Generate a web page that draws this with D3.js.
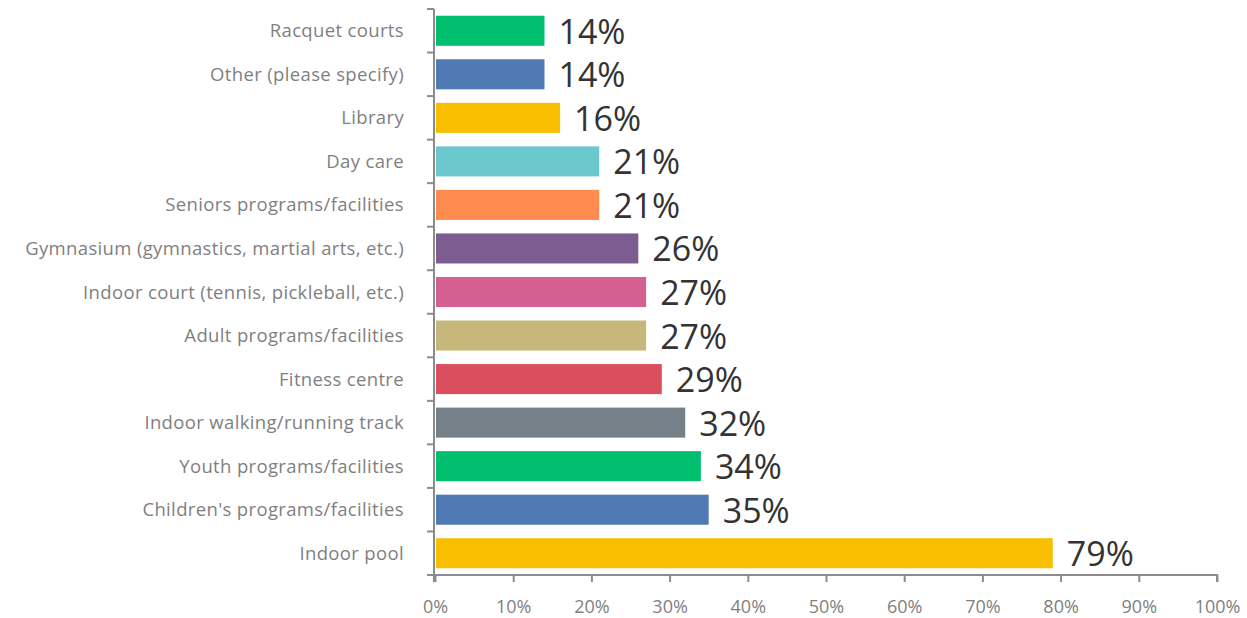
<!DOCTYPE html>
<html>
<head>
<meta charset="utf-8">
<script src="https://cdn.jsdelivr.net/npm/d3@7"></script>
<style>
  html, body { margin: 0; padding: 0; background: #fff; }
  svg { display: block; font-family: "Open Sans", sans-serif; }
</style>
</head>
<body>
<svg id="chart" width="1247" height="618"></svg>
<script>
// Facility categories, top to bottom
const categories = [
  "Racquet courts",
  "Other (please specify)",
  "Library",
  "Day care",
  "Seniors programs/facilities",
  "Gymnasium (gymnastics, martial arts, etc.)",
  "Indoor court (tennis, pickleball, etc.)",
  "Adult programs/facilities",
  "Fitness centre",
  "Indoor walking/running track",
  "Youth programs/facilities",
  "Children's programs/facilities",
  "Indoor pool"
];

// Share of respondents (%)
const values = [14, 14, 16, 21, 21, 26, 27, 27, 29, 32, 34, 35, 79];

// Bar fills
const barColors = [
  "#00BF6F", "#4F7AB4", "#F9BE00", "#6BC8CD", "#FF8B4F", "#7D5C91",
  "#D45F91", "#C8B77A", "#DA4E5D", "#768088", "#00BF6F", "#4F7AB4", "#F9BE00"
];

// X axis ticks
const xTicks = [0, 10, 20, 30, 40, 50, 60, 70, 80, 90, 100];

const svg = d3.select("#chart");
const axisColor = "#8c8c8c";

const x = d3.scaleLinear().domain([0, 100]).range([435, 1217]);
const y = d3.scaleBand().domain(categories).range([9, 575])
  .paddingInner(0.31).paddingOuter(0.155);

// Bars
svg.append("g").selectAll("rect")
  .data(categories)
  .join("rect")
  .attr("x", x(0) + 1)
  .attr("y", d => y(d))
  .attr("width", (d, i) => x(values[i]) - x(0) - 1)
  .attr("height", y.bandwidth())
  .attr("fill", (d, i) => barColors[i]);

// Value labels
svg.append("g").selectAll("text")
  .data(categories)
  .join("text")
  .attr("x", (d, i) => x(values[i]) + 14)
  .attr("y", d => y(d) + y.bandwidth() / 2 + 13)
  .attr("font-size", 34)
  .attr("fill", "#333333")
  .text((d, i) => values[i] + "%");

// Category axis: ticks sit between bands
const yAxisG = svg.append("g");
yAxisG.append("line")
  .attr("x1", x(0) - 1).attr("x2", x(0) - 1)
  .attr("y1", y.range()[0]).attr("y2", y.range()[1])
  .attr("stroke", axisColor).attr("stroke-width", 2);
const boundaries = d3.range(categories.length + 1).map(i => y.range()[0] + (y.range()[1] - y.range()[0]) * i / categories.length);
yAxisG.selectAll("line.tick")
  .data(boundaries)
  .join("line")
  .attr("class", "tick")
  .attr("x1", x(0) - 8).attr("x2", x(0) - 1)
  .attr("y1", d => d).attr("y2", d => d)
  .attr("stroke", axisColor).attr("stroke-width", 2);
yAxisG.selectAll("text")
  .data(categories)
  .join("text")
  .attr("x", 404)
  .attr("y", d => y(d) + y.bandwidth() / 2 + 6.5)
  .attr("text-anchor", "end")
  .attr("font-size", 18.5)
  .attr("letter-spacing", 0.35)
  .attr("fill", "#7f7f7f")
  .text(d => d);

// Value axis along the bottom
const xAxis = d3.axisBottom(x)
  .tickValues(xTicks)
  .tickSize(7)
  .tickPadding(18)
  .tickFormat(d => d + "%");
const xAxisG = svg.append("g")
  .attr("transform", `translate(0,${y.range()[1]})`)
  .call(xAxis);
xAxisG.select(".domain")
  .attr("stroke", axisColor).attr("stroke-width", 2)
  .attr("d", `M${x(0) - 1},0V7M${x(0) - 1},0H${x(100)}V7`);
xAxisG.selectAll(".tick line").attr("stroke", axisColor).attr("stroke-width", 2);
xAxisG.selectAll(".tick text")
  .attr("font-family", "'Open Sans', sans-serif")
  .attr("font-size", 18)
  .attr("fill", "#7f7f7f");
</script>
</body>
</html>
